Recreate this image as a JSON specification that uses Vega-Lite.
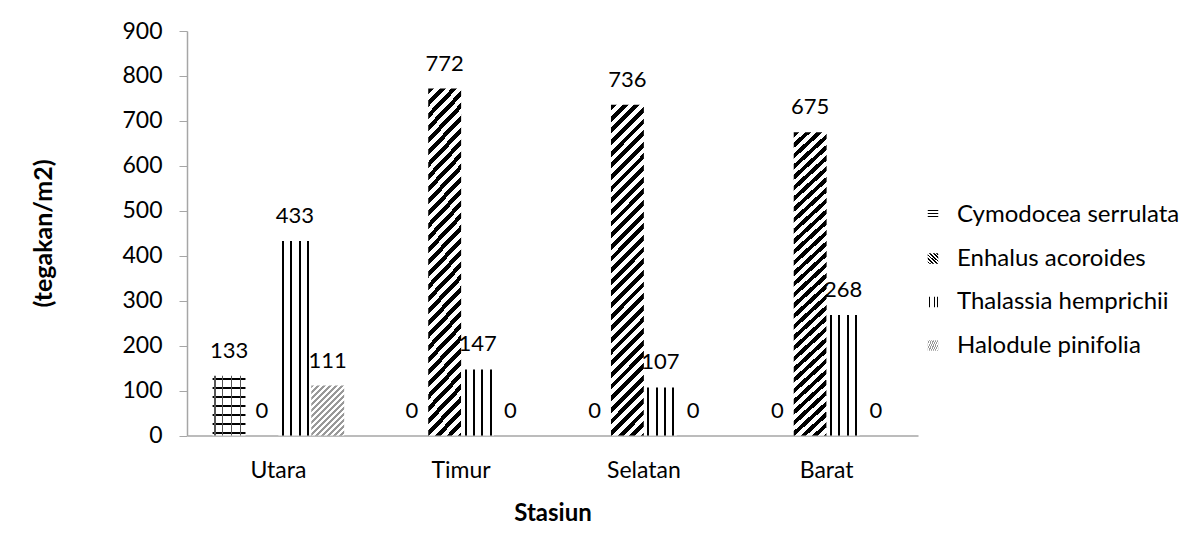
{
  "$schema": "https://vega.github.io/schema/vega-lite/v6.json",
  "width": 731,
  "height": 404.5,
  "autosize": "none",
  "padding": {"left": 187, "top": 31, "right": 274, "bottom": 110.5},
  "background": "white",
  "config": {"font": "Lato", "view": {"stroke": null}},
  "data": {
    "values": [
      {"station": "Utara", "species": "Cymodocea serrulata", "value": 133},
      {"station": "Utara", "species": "Enhalus acoroides", "value": 0},
      {"station": "Utara", "species": "Thalassia hemprichii", "value": 433},
      {"station": "Utara", "species": "Halodule pinifolia", "value": 111},
      {"station": "Timur", "species": "Cymodocea serrulata", "value": 0},
      {"station": "Timur", "species": "Enhalus acoroides", "value": 772},
      {"station": "Timur", "species": "Thalassia hemprichii", "value": 147},
      {"station": "Timur", "species": "Halodule pinifolia", "value": 0},
      {"station": "Selatan", "species": "Cymodocea serrulata", "value": 0},
      {"station": "Selatan", "species": "Enhalus acoroides", "value": 736},
      {"station": "Selatan", "species": "Thalassia hemprichii", "value": 107},
      {"station": "Selatan", "species": "Halodule pinifolia", "value": 0},
      {"station": "Barat", "species": "Cymodocea serrulata", "value": 0},
      {"station": "Barat", "species": "Enhalus acoroides", "value": 675},
      {"station": "Barat", "species": "Thalassia hemprichii", "value": 268},
      {"station": "Barat", "species": "Halodule pinifolia", "value": 0}
    ]
  },
  "encoding": {
    "x": {
      "field": "station",
      "type": "nominal",
      "sort": ["Utara", "Timur", "Selatan", "Barat"],
      "scale": {"paddingInner": 0.28, "paddingOuter": 0.14},
      "axis": {
        "title": "Stasiun",
        "labelAngle": 0,
        "labelFontSize": 23,
        "labelColor": "#000",
        "labelPadding": 24,
        "labelBaseline": "top",
        "ticks": false,
        "tickSize": 0,
        "domainColor": "#a6a6a6",
        "domainWidth": 1.5,
        "titleFontSize": 24,
        "titleFontWeight": "bold",
        "titleColor": "#000",
        "titleBaseline": "alphabetic",
        "titleY": 84.5,
        "grid": false
      }
    },
    "xOffset": {
      "field": "species",
      "type": "nominal",
      "scale": {"domain": ["Cymodocea serrulata", "Enhalus acoroides", "Thalassia hemprichii", "Halodule pinifolia"], "paddingInner": 0, "paddingOuter": 0}
    },
    "y": {
      "field": "value",
      "type": "quantitative",
      "scale": {"domain": [0, 900], "nice": false},
      "axis": {
        "title": "(tegakan/m2)",
        "values": [0, 100, 200, 300, 400, 500, 600, 700, 800, 900],
        "labelFontSize": 23,
        "labelColor": "#000",
        "labelPadding": 17,
        "tickSize": 8,
        "tickColor": "#a6a6a6",
        "domainColor": "#a6a6a6",
        "domainWidth": 1.5,
        "grid": false,
        "titleFontSize": 25,
        "titleFontWeight": "bold",
        "titleColor": "#000",
        "titleAngle": 270,
        "titleAlign": "center",
        "titleBaseline": "middle",
        "titleX": -144,
        "titleY": 202
      }
    }
  },
  "layer": [
    {
      "mark": {"type": "bar"},
      "encoding": {
        "fill": {
          "field": "species",
          "type": "nominal",
          "scale": {
            "domain": ["Cymodocea serrulata", "Enhalus acoroides", "Thalassia hemprichii", "Halodule pinifolia"],
            "range": [
              {"expr": "{gradient:'linear',x1:0,y1:0,x2:0,y2:1,stops:[{offset:0,color:'#fff'},{offset:0.038,color:'#fff'},{offset:0.038,color:'#000'},{offset:0.072,color:'#000'},{offset:0.072,color:'#fff'},{offset:0.189,color:'#fff'},{offset:0.189,color:'#000'},{offset:0.223,color:'#000'},{offset:0.223,color:'#fff'},{offset:0.339,color:'#fff'},{offset:0.339,color:'#000'},{offset:0.373,color:'#000'},{offset:0.373,color:'#fff'},{offset:0.49,color:'#fff'},{offset:0.49,color:'#000'},{offset:0.524,color:'#000'},{offset:0.524,color:'#fff'},{offset:0.64,color:'#fff'},{offset:0.64,color:'#000'},{offset:0.674,color:'#000'},{offset:0.674,color:'#fff'},{offset:0.791,color:'#fff'},{offset:0.791,color:'#000'},{offset:0.825,color:'#000'},{offset:0.825,color:'#fff'},{offset:0.941,color:'#fff'},{offset:0.941,color:'#000'},{offset:0.975,color:'#000'},{offset:0.975,color:'#fff'},{offset:1,color:'#fff'}]}"},
              {"expr": "{gradient:'linear',x1:0,y1:0,x2:0.109,y2:1.089,stops:[{offset:0,color:'#000'},{offset:0.016,color:'#000'},{offset:0.016,color:'#fff'},{offset:0.032,color:'#fff'},{offset:0.032,color:'#000'},{offset:0.048,color:'#000'},{offset:0.048,color:'#fff'},{offset:0.064,color:'#fff'},{offset:0.064,color:'#000'},{offset:0.08,color:'#000'},{offset:0.08,color:'#fff'},{offset:0.096,color:'#fff'},{offset:0.096,color:'#000'},{offset:0.112,color:'#000'},{offset:0.112,color:'#fff'},{offset:0.128,color:'#fff'},{offset:0.128,color:'#000'},{offset:0.144,color:'#000'},{offset:0.144,color:'#fff'},{offset:0.16,color:'#fff'},{offset:0.16,color:'#000'},{offset:0.176,color:'#000'},{offset:0.176,color:'#fff'},{offset:0.192,color:'#fff'},{offset:0.192,color:'#000'},{offset:0.208,color:'#000'},{offset:0.208,color:'#fff'},{offset:0.224,color:'#fff'},{offset:0.224,color:'#000'},{offset:0.24,color:'#000'},{offset:0.24,color:'#fff'},{offset:0.256,color:'#fff'},{offset:0.256,color:'#000'},{offset:0.272,color:'#000'},{offset:0.272,color:'#fff'},{offset:0.288,color:'#fff'},{offset:0.288,color:'#000'},{offset:0.304,color:'#000'},{offset:0.304,color:'#fff'},{offset:0.32,color:'#fff'},{offset:0.32,color:'#000'},{offset:0.336,color:'#000'},{offset:0.336,color:'#fff'},{offset:0.352,color:'#fff'},{offset:0.352,color:'#000'},{offset:0.368,color:'#000'},{offset:0.368,color:'#fff'},{offset:0.384,color:'#fff'},{offset:0.384,color:'#000'},{offset:0.4,color:'#000'},{offset:0.4,color:'#fff'},{offset:0.416,color:'#fff'},{offset:0.416,color:'#000'},{offset:0.432,color:'#000'},{offset:0.432,color:'#fff'},{offset:0.448,color:'#fff'},{offset:0.448,color:'#000'},{offset:0.464,color:'#000'},{offset:0.464,color:'#fff'},{offset:0.48,color:'#fff'},{offset:0.48,color:'#000'},{offset:0.496,color:'#000'},{offset:0.496,color:'#fff'},{offset:0.512,color:'#fff'},{offset:0.512,color:'#000'},{offset:0.528,color:'#000'},{offset:0.528,color:'#fff'},{offset:0.544,color:'#fff'},{offset:0.544,color:'#000'},{offset:0.56,color:'#000'},{offset:0.56,color:'#fff'},{offset:0.576,color:'#fff'},{offset:0.576,color:'#000'},{offset:0.592,color:'#000'},{offset:0.592,color:'#fff'},{offset:0.608,color:'#fff'},{offset:0.608,color:'#000'},{offset:0.624,color:'#000'},{offset:0.624,color:'#fff'},{offset:0.64,color:'#fff'},{offset:0.64,color:'#000'},{offset:0.656,color:'#000'},{offset:0.656,color:'#fff'},{offset:0.672,color:'#fff'},{offset:0.672,color:'#000'},{offset:0.688,color:'#000'},{offset:0.688,color:'#fff'},{offset:0.704,color:'#fff'},{offset:0.704,color:'#000'},{offset:0.72,color:'#000'},{offset:0.72,color:'#fff'},{offset:0.736,color:'#fff'},{offset:0.736,color:'#000'},{offset:0.752,color:'#000'},{offset:0.752,color:'#fff'},{offset:0.768,color:'#fff'},{offset:0.768,color:'#000'},{offset:0.784,color:'#000'},{offset:0.784,color:'#fff'},{offset:0.8,color:'#fff'},{offset:0.8,color:'#000'},{offset:0.816,color:'#000'},{offset:0.816,color:'#fff'},{offset:0.832,color:'#fff'},{offset:0.832,color:'#000'},{offset:0.848,color:'#000'},{offset:0.848,color:'#fff'},{offset:0.864,color:'#fff'},{offset:0.864,color:'#000'},{offset:0.88,color:'#000'},{offset:0.88,color:'#fff'},{offset:0.896,color:'#fff'},{offset:0.896,color:'#000'},{offset:0.912,color:'#000'},{offset:0.912,color:'#fff'},{offset:0.928,color:'#fff'},{offset:0.928,color:'#000'},{offset:0.944,color:'#000'},{offset:0.944,color:'#fff'},{offset:0.96,color:'#fff'},{offset:0.96,color:'#000'},{offset:0.976,color:'#000'},{offset:0.976,color:'#fff'},{offset:0.992,color:'#fff'},{offset:0.992,color:'#000'},{offset:1,color:'#000'}]}"},
              {"expr": "{gradient:'linear',x1:0,y1:0,x2:1,y2:0,stops:[{offset:0,color:'#fff'},{offset:0.11,color:'#fff'},{offset:0.11,color:'#000'},{offset:0.17,color:'#000'},{offset:0.17,color:'#fff'},{offset:0.36,color:'#fff'},{offset:0.36,color:'#000'},{offset:0.42,color:'#000'},{offset:0.42,color:'#fff'},{offset:0.615,color:'#fff'},{offset:0.615,color:'#000'},{offset:0.675,color:'#000'},{offset:0.675,color:'#fff'},{offset:0.87,color:'#fff'},{offset:0.87,color:'#000'},{offset:0.93,color:'#000'},{offset:0.93,color:'#fff'},{offset:1,color:'#fff'}]}"},
              {"expr": "{gradient:'linear',x1:0,y1:0,x2:0.763,y2:1.156,stops:[{offset:0,color:'#999'},{offset:0.036,color:'#999'},{offset:0.036,color:'#fff'},{offset:0.072,color:'#fff'},{offset:0.072,color:'#999'},{offset:0.108,color:'#999'},{offset:0.108,color:'#fff'},{offset:0.144,color:'#fff'},{offset:0.144,color:'#999'},{offset:0.18,color:'#999'},{offset:0.18,color:'#fff'},{offset:0.216,color:'#fff'},{offset:0.216,color:'#999'},{offset:0.252,color:'#999'},{offset:0.252,color:'#fff'},{offset:0.288,color:'#fff'},{offset:0.288,color:'#999'},{offset:0.324,color:'#999'},{offset:0.324,color:'#fff'},{offset:0.36,color:'#fff'},{offset:0.36,color:'#999'},{offset:0.396,color:'#999'},{offset:0.396,color:'#fff'},{offset:0.432,color:'#fff'},{offset:0.432,color:'#999'},{offset:0.468,color:'#999'},{offset:0.468,color:'#fff'},{offset:0.504,color:'#fff'},{offset:0.504,color:'#999'},{offset:0.54,color:'#999'},{offset:0.54,color:'#fff'},{offset:0.576,color:'#fff'},{offset:0.576,color:'#999'},{offset:0.612,color:'#999'},{offset:0.612,color:'#fff'},{offset:0.648,color:'#fff'},{offset:0.648,color:'#999'},{offset:0.684,color:'#999'},{offset:0.684,color:'#fff'},{offset:0.72,color:'#fff'},{offset:0.72,color:'#999'},{offset:0.756,color:'#999'},{offset:0.756,color:'#fff'},{offset:0.792,color:'#fff'},{offset:0.792,color:'#999'},{offset:0.828,color:'#999'},{offset:0.828,color:'#fff'},{offset:0.864,color:'#fff'},{offset:0.864,color:'#999'},{offset:0.9,color:'#999'},{offset:0.9,color:'#fff'},{offset:0.936,color:'#fff'},{offset:0.936,color:'#999'},{offset:0.972,color:'#999'},{offset:0.972,color:'#fff'},{offset:1,color:'#fff'}]}"}
            ]
          },
          "legend": {
            "title": null,
            "orient": "none",
            "legendX": 734,
            "legendY": 172,
            "symbolType": "square",
            "symbolSize": 110,
            "symbolStrokeWidth": 0,
            "labelFontSize": 24,
            "labelColor": "#000",
            "labelLimit": 400,
            "labelOffset": 12,
            "rowPadding": 19.5
          }
        }
      }
    },
    {
      "transform": [{"filter": "datum.species === 'Cymodocea serrulata'"}],
      "mark": {
        "type": "bar",
        "fill": {"gradient": "linear", "x1": 0, "y1": 0, "x2": 1, "y2": 0, "stops": [
          {"offset": 0, "color": "rgba(0,0,0,0)"}, {"offset": 0.05, "color": "rgba(0,0,0,0)"},
          {"offset": 0.05, "color": "#555"}, {"offset": 0.09, "color": "#555"},
          {"offset": 0.09, "color": "rgba(0,0,0,0)"}, {"offset": 0.29, "color": "rgba(0,0,0,0)"},
          {"offset": 0.29, "color": "#555"}, {"offset": 0.33, "color": "#555"},
          {"offset": 0.33, "color": "rgba(0,0,0,0)"}, {"offset": 0.55, "color": "rgba(0,0,0,0)"},
          {"offset": 0.55, "color": "#555"}, {"offset": 0.59, "color": "#555"},
          {"offset": 0.59, "color": "rgba(0,0,0,0)"}, {"offset": 0.83, "color": "rgba(0,0,0,0)"},
          {"offset": 0.83, "color": "#555"}, {"offset": 0.87, "color": "#555"},
          {"offset": 0.87, "color": "rgba(0,0,0,0)"}, {"offset": 1, "color": "rgba(0,0,0,0)"}
        ]}
      },
      "encoding": {}
    },
    {
      "mark": {"type": "text", "baseline": "alphabetic", "dy": -18, "fontSize": 22, "color": "#000"},
      "encoding": {"text": {"field": "value", "type": "quantitative"}}
    }
  ]
}
